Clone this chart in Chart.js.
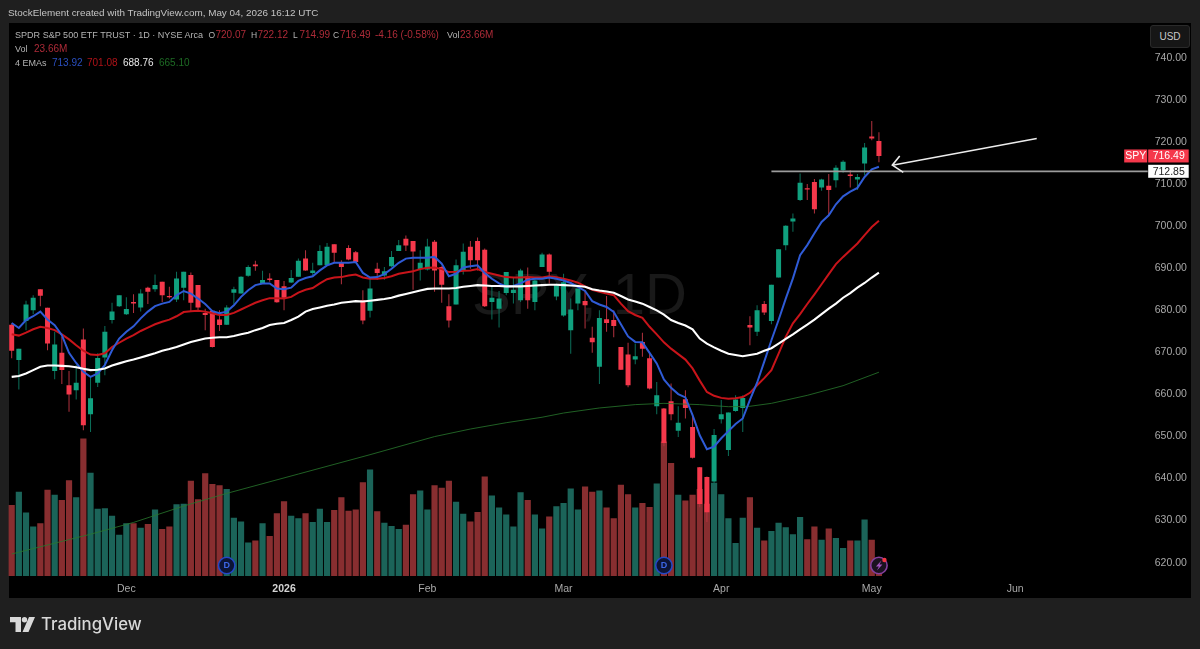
<!DOCTYPE html>
<html lang="en">
<head>
<meta charset="UTF-8">
<title>SPY daily</title>
<script src="https://cdn.jsdelivr.net/npm/chart.js"></script>
<style>
    html, body { margin: 0; padding: 0; background: #1f1f1f; }
    body { position: relative; width: 1200px; height: 649px; overflow: hidden; font-family: "Liberation Sans", sans-serif; }
    #panel { position: absolute; left: 9px; top: 23px; width: 1182px; height: 575px; background: #000; }
    canvas { position: absolute; left: 0; top: 0; }
    .t { position: absolute; white-space: nowrap; font-size: 10px; line-height: 12px; color: #b4b4b4; }
    #usd { position: absolute; left: 1150px; top: 25px; width: 38px; height: 21px; line-height: 21px; text-align: center;
           background: #161616; border: 1px solid #2a2a2a; border-radius: 3px; font-size: 10px; color: #c8c8c8; }
    #logoText { position: absolute; left: 41px; top: 612px; font-family: Inter, sans-serif; font-weight: 500; font-size: 16.8px; line-height: 25px; color: #d8d8d8; }
    #logo { position: absolute; left: 10px; top: 617px; }
</style>
</head>
<body>
<div id="panel"></div>
<canvas id="spychart" width="1200" height="649"></canvas>
<div id="usd">USD</div>
<svg id="logo" width="26" height="15" viewBox="0 0 26 15">
    <path d="M0 0H11V15H5.5V5.2H0Z M25 0L18.5 15H12.5L19 0Z" fill="#d8d8d8"/>
    <circle cx="14.5" cy="2.7" r="2.7" fill="#d8d8d8"/>
</svg>
<div id="logoText">TradingView</div>
<script>
    // Daily candles, oldest first
    const opens = [676.4,668.0,677.3,679.8,684.8,680.4,665.4,669.7,662.0,660.8,
        672.9,655.1,662.6,668.6,677.5,680.8,678.9,681.8,680.5,685.2,
        684.8,686.6,683.2,682.4,685.2,688.2,685.8,679.2,679.7,677.6,
        676.4,684.0,683.8,688.0,690.7,686.3,687.4,687.0,685.5,686.4,
        687.8,692.1,688.7,690.5,690.5,695.5,691.1,694.6,693.6,682.2,
        679.7,689.7,688.1,690.3,693.9,696.8,696.3,689.6,689.5,696.1,
        690.1,680.8,681.2,689.3,694.9,696.3,694.2,681.8,680.2,683.9,
        683.9,682.2,687.7,681.8,690.1,693.1,683.1,678.6,675.1,681.4,
        682.0,673.3,666.4,677.7,677.5,671.1,669.3,668.1,672.3,668.4,
        657.0,656.5,658.2,651.2,658.7,652.1,642.5,640.2,639.1,653.9,
        646.6,655.9,656.6,676.3,674.7,681.3,677.3,687.6,695.3,700.9,
        706.0,708.8,710.3,709.0,709.4,710.7,713.1,712.1,710.9,714.7,
        721.1,720.07];
    const highs = [676.7,670.7,682.1,683.4,684.8,680.4,674.7,673.5,665.4,666.8,
        675.5,664.2,669.6,676.1,681.6,683.4,682.9,683.6,684.8,685.4,
        688.3,686.6,685.4,689.0,689.0,688.8,685.8,680.2,679.8,679.8,
        681.0,685.4,687.9,690.5,691.6,689.2,688.6,687.0,686.8,689.4,
        692.1,694.1,691.1,695.3,695.8,695.5,691.7,695.3,693.9,684.6,
        687.3,691.1,690.1,693.9,696.5,697.6,696.3,694.1,696.8,696.5,
        690.3,683.6,691.9,695.7,696.3,697.1,694.5,685.8,684.4,688.9,
        687.7,689.7,690.0,687.6,693.5,693.3,686.2,688.5,682.6,685.0,
        684.6,675.9,679.8,683.2,679.8,671.1,672.1,671.9,674.5,669.5,
        662.8,656.6,662.4,657.0,660.8,654.9,642.6,640.3,651.6,658.5,
        655.5,659.6,659.6,678.4,681.0,682.0,685.9,694.3,700.0,702.8,
        712.3,709.8,711.0,711.1,712.2,714.3,715.5,713.1,712.2,719.6,
        724.8,722.12];
    const lows = [668.4,661.0,675.1,678.9,680.8,670.3,663.4,662.3,655.7,658.6,
        651.3,650.9,661.6,664.4,676.7,680.6,678.7,679.2,679.5,681.3,
        684.2,681.8,682.6,681.8,682.2,679.5,679.5,675.1,671.0,674.9,
        676.3,681.3,683.8,687.8,689.2,686.2,686.6,681.6,679.8,686.3,
        687.8,689.2,688.1,690.5,690.5,691.3,686.0,691.7,691.1,676.5,
        678.1,687.1,687.1,690.1,693.9,693.9,684.7,686.9,689.3,684.2,
        681.6,675.7,681.2,688.3,689.7,689.3,680.6,677.6,675.7,683.4,
        681.4,681.8,680.2,679.8,690.1,686.2,682.2,678.3,669.5,679.8,
        675.5,669.7,662.3,674.7,673.4,665.6,661.5,667.0,668.8,661.0,
        655.1,647.5,653.7,649.7,654.1,644.6,633.0,629.5,638.3,652.9,
        645.2,655.7,650.9,671.5,673.7,678.7,676.5,687.6,694.1,698.5,
        705.8,706.0,702.8,708.2,702.4,709.0,712.5,709.0,708.4,711.9,
        720.2,714.99];
    const closes = [670.2,670.7,681.2,682.8,683.3,671.9,671.7,665.6,659.8,662.6,
        652.5,658.9,668.5,674.7,679.5,683.4,680.1,681.4,683.8,684.2,
        685.8,683.4,682.9,687.4,689.0,681.6,680.5,678.7,671.1,676.3,
        680.5,684.8,687.8,690.1,690.3,687.0,687.0,681.7,682.8,687.5,
        691.6,689.3,689.3,693.9,694.9,693.5,690.1,691.9,691.3,677.4,
        685.0,688.7,689.1,692.5,695.3,695.2,693.8,691.1,695.0,689.3,
        685.9,677.4,690.5,693.7,691.7,691.7,680.8,682.8,682.6,688.9,
        684.7,689.3,682.2,686.9,693.1,689.0,685.8,686.5,680.0,685.0,
        681.0,672.2,678.0,676.8,676.1,665.7,662.0,668.9,670.7,661.2,
        659.6,648.3,655.1,653.1,656.6,644.8,633.8,631.8,650.2,655.1,
        655.5,658.6,659.0,675.7,679.8,679.3,685.9,694.3,699.9,701.6,
        710.1,708.5,703.8,710.9,708.4,713.7,715.1,711.7,711.5,718.5,
        720.65,716.49];

    // Volume in millions of shares
    const volumes = [112,133,100,78,83,136,128,120,151,124,
        217,163,106,107,95,65,83,83,76,82,
        105,74,78,113,114,150,121,162,145,143,
        137,92,86,53,56,83,63,99,118,95,
        91,99,85,106,85,104,124,103,105,148,
        168,102,84,79,74,81,129,135,105,143,
        139,150,117,98,86,101,157,127,108,97,
        78,132,120,97,75,94,110,115,138,105,
        141,133,135,108,91,144,129,108,115,109,
        146,212,178,128,119,128,137,114,147,129,
        91,52,92,124,76,56,71,84,77,66,
        93,58,78,57,75,60,44,56,56,89,
        57,23.66];

    const emaBlue = [676.8,675.6,677.5,678.4,679.5,677.6,676.3,673.9,669.7,667.3,
        665.2,664.0,664.8,666.8,670.3,673.1,674.7,676.0,677.9,679.5,
        680.8,681.4,681.8,683.4,684.4,683.8,682.6,681.3,679.6,679.1,
        679.5,681.0,683.0,684.6,685.8,686.2,686.2,685.0,684.8,685.2,
        686.8,687.5,687.9,689.3,690.5,691.1,691.1,691.1,691.3,688.7,
        687.6,687.7,688.4,689.7,691.1,692.1,692.3,692.3,692.3,692.5,
        690.9,687.9,688.5,690.0,690.3,690.5,688.7,687.3,686.2,685.5,
        685.6,686.2,687.1,687.3,687.3,687.6,687.3,686.9,686.3,685.4,
        684.4,682.0,681.2,680.6,679.4,676.5,673.6,672.3,672.2,669.7,
        667.2,663.4,661.4,659.9,659.1,654.9,650.1,646.8,647.4,649.4,
        651.1,652.8,654.1,658.5,662.6,667.6,672.7,677.5,682.6,687.4,
        692.9,695.3,698.1,700.8,702.4,705.0,706.9,708.0,708.9,711.5,
        713.3,713.92];
    const emaRed = [674.1,673.8,674.5,675.3,675.9,675.6,675.1,674.1,672.9,671.5,
        670.2,669.3,669.2,669.6,671.1,672.1,673.1,673.9,674.9,675.7,
        676.5,677.1,677.6,678.4,679.4,679.6,679.7,679.5,679.1,678.7,
        678.7,679.2,680.0,680.8,681.6,682.2,682.7,682.7,682.6,683.0,
        684.0,684.7,685.1,686.2,687.2,687.6,687.7,688.1,688.3,687.6,
        687.3,687.3,687.5,687.9,688.5,688.8,689.1,689.6,689.9,690.0,
        689.6,688.9,689.0,689.2,689.3,689.6,688.9,688.5,688.1,687.7,
        687.6,687.6,687.7,687.6,687.6,687.9,687.7,687.3,686.9,686.4,
        685.5,684.7,684.2,683.8,683.4,681.4,679.6,678.7,678.0,675.9,
        674.1,672.2,670.7,669.4,668.1,666.0,663.1,660.4,659.5,659.0,
        658.8,658.9,659.2,660.2,662.0,663.7,665.6,669.5,673.5,676.7,
        678.9,681.3,683.6,686.0,688.4,690.8,692.5,694.1,695.7,697.7,
        699.6,701.08];
    const emaWhite = [664.0,664.2,664.8,665.6,666.4,666.7,666.7,666.6,666.5,666.3,
        665.9,665.6,665.7,666.0,666.7,667.2,667.7,668.1,668.6,669.1,
        669.6,670.2,670.6,671.1,671.7,672.3,672.7,673.1,673.3,673.4,
        673.4,673.7,674.1,674.5,675.1,675.6,676.3,676.6,676.8,677.5,
        678.3,679.5,680.1,680.5,680.9,681.2,681.6,681.8,682.0,681.9,
        682.1,682.3,682.5,682.8,683.3,683.7,684.1,684.5,684.9,685.0,
        685.0,685.0,685.1,685.4,685.6,685.8,685.7,685.6,685.6,685.5,
        685.5,685.5,685.6,685.7,685.8,685.9,685.9,685.8,685.7,685.6,
        685.4,684.8,684.5,684.3,684.0,683.2,682.4,681.9,681.4,680.6,
        679.8,678.8,677.5,676.8,676.2,675.3,673.1,671.9,671.0,670.2,
        669.5,669.2,668.9,669.2,669.5,670.2,670.8,671.9,673.0,674.1,
        675.3,676.4,677.6,678.9,680.2,681.4,682.8,683.9,685.2,686.3,
        687.6,688.76];
    const emaGreenBars = [0,11,17,24,30,40,50,59,64,69,74,77,82,87,91,96,100,103,106,111,116,121];
    const emaGreenVals = [621.9,626.6,629.4,633.3,636.3,640.9,645.5,649.8,651.6,653.1,654.4,655.4,656.6,657.4,657.7,657.4,656.9,657.0,657.7,659.6,661.9,665.10];

    const monthBars = [16,38,58,77,99,120,140];
    const monthNames = ['Dec','2026','Feb','Mar','Apr','May','Jun'];
    const dividendBars = [30,91];
    const slotCount = 159;   // bars plus the empty space to the right
    const volumeAxisMax = 872;

    const levelPrice = 712.85;
    const levelFromBar = 106;
    const arrowBars = [143.02,122.87];
    const arrowPrices = [720.64,714.3];
    const arrowHeadBars = [123.9,122.87,124.4];
    const arrowHeadPrices = [716.5,714.3,712.6];

    const UP = '#10a07e', DOWN = '#f5384b';
    const UP_WICK = '#0c6f5a', DOWN_WICK = '#b3323f';
    const UP_VOL = '#1b6459', DOWN_VOL = '#882e30';
    const AXIS_FONT = '"Liberation Sans", sans-serif';

    const isUp = i => closes[i] >= opens[i];
    const slots = Array.from({ length: slotCount }, (_, i) => String(i));

    function addText(left, top, text, color, size) {
        const d = document.createElement('div');
        d.className = 't';
        d.style.left = left + 'px';
        d.style.top = top + 'px';
        d.textContent = text;
        if (color) d.style.color = color;
        if (size) d.style.fontSize = size + 'px';
        document.body.appendChild(d);
    }

    // Top strip and the legend rows
    const n = closes.length - 1;
    const change = closes[n] - closes[n - 1];
    const pct = change / closes[n - 1] * 100;
    const legendRed = '#ad2b38';
    addText(8, 7, 'StockElement created with TradingView.com, May 04, 2026 16:12 UTC', '#c4c4c4', 9.9);
    addText(15, 29, 'SPDR S&P 500 ETF TRUST · 1D · NYSE Arca', null, 9.05);
    addText(208.5, 29, 'O', null, 8.5);
    addText(215.5, 29, opens[n].toFixed(2), legendRed);
    addText(251, 29, 'H', null, 8.5);
    addText(257.5, 29, highs[n].toFixed(2), legendRed);
    addText(293, 29, 'L', null, 8.5);
    addText(299.5, 29, lows[n].toFixed(2), legendRed);
    addText(333, 29, 'C', null, 8.5);
    addText(340, 29, closes[n].toFixed(2), legendRed);
    addText(375, 29, change.toFixed(2) + ' (' + pct.toFixed(2) + '%)', legendRed);
    addText(447, 29, 'Vol', null, 9);
    addText(460, 29, volumes[n].toFixed(2) + 'M', legendRed);
    addText(15, 43, 'Vol', null, 9);
    addText(34, 43, volumes[n].toFixed(2) + 'M', legendRed);
    addText(15, 57, '4 EMAs', null, 9);
    addText(52, 57, emaBlue[n].toFixed(2), '#2a4fc0');
    addText(87, 57, emaRed[n].toFixed(2), '#b01218');
    addText(123, 57, emaWhite[n].toFixed(2), '#e8e8e8');
    addText(159, 57, emaGreenVals[emaGreenVals.length - 1].toFixed(2), '#1d6b24');

    // Faint symbol text behind the candles
    const watermark = {
        id: 'watermark',
        beforeDatasetsDraw(chart) {
            const ctx = chart.ctx;
            ctx.save();
            ctx.fillStyle = '#191919';
            ctx.font = '58px "Liberation Sans", sans-serif';
            ctx.textAlign = 'left';
            ctx.textBaseline = 'middle';
            ctx.fillText('SPY, 1D', 472, 298);
            ctx.restore();
        }
    };

    function drawBadge(ctx, x, cy, ring, fill) {
        ctx.beginPath();
        ctx.arc(x, cy, 8.2, 0, Math.PI * 2);
        ctx.fillStyle = fill;
        ctx.fill();
        ctx.lineWidth = 1.6;
        ctx.strokeStyle = ring;
        ctx.stroke();
    }

    // Price level, hand-drawn arrow, price tags and event badges
    const overlays = {
        id: 'overlays',
        afterDatasetsDraw(chart) {
            const ctx = chart.ctx;
            const xs = chart.scales.x, ys = chart.scales.y;
            const area = chart.chartArea;
            const levelY = ys.getPixelForValue(levelPrice);

            ctx.save();
            ctx.lineWidth = 1.8;
            ctx.strokeStyle = '#9c9c9c';
            ctx.beginPath();
            ctx.moveTo(xs.getPixelForValue(levelFromBar), levelY);
            ctx.lineTo(area.right, levelY);
            ctx.stroke();

            ctx.lineWidth = 1.6;
            ctx.strokeStyle = '#ececec';
            ctx.beginPath();
            arrowBars.forEach((b, i) => ctx.lineTo(xs.getPixelForValue(b), ys.getPixelForValue(arrowPrices[i])));
            ctx.stroke();
            ctx.beginPath();
            arrowHeadBars.forEach((b, i) => ctx.lineTo(xs.getPixelForValue(b), ys.getPixelForValue(arrowHeadPrices[i])));
            ctx.stroke();

            // Tags on the price axis
            const lastY = ys.getPixelForValue(closes[n]);
            ctx.fillStyle = DOWN;
            ctx.fillRect(area.right - 23.5, lastY - 6.5, 23, 13);
            ctx.fillRect(area.right + 0.5, lastY - 6.5, 40.5, 13);
            ctx.fillStyle = '#fff';
            ctx.fillRect(area.right + 0.5, levelY - 6.5, 40.5, 13);
            ctx.font = '10.5px ' + AXIS_FONT;
            ctx.textBaseline = 'middle';
            ctx.textAlign = 'center';
            ctx.fillStyle = '#fff';
            ctx.fillText('SPY', area.right - 12, lastY + 0.5);
            ctx.fillText(closes[n].toFixed(2), area.right + 21, lastY + 0.5);
            ctx.fillStyle = '#222';
            ctx.fillText(levelPrice.toFixed(2), area.right + 21, levelY + 0.5);

            // Dividend markers along the bottom of the pane
            const badgeY = area.bottom - 10.5;
            dividendBars.forEach(b => {
                const x = xs.getPixelForValue(b);
                drawBadge(ctx, x, badgeY, '#2448c8', '#0c1436');
                ctx.fillStyle = '#3c66e6';
                ctx.font = 'bold 9px ' + AXIS_FONT;
                ctx.fillText('D', x, badgeY + 0.5);
            });

            // Latest-session marker with its bolt and alert dot
            const lx = xs.getPixelForValue(n);
            drawBadge(ctx, lx, badgeY, '#86409f', '#1b1220');
            ctx.fillStyle = '#a254c0';
            ctx.beginPath();
            ctx.moveTo(lx + 2.5, badgeY - 5);
            ctx.lineTo(lx - 3, badgeY + 1);
            ctx.lineTo(lx, badgeY + 1);
            ctx.lineTo(lx - 2, badgeY + 5);
            ctx.lineTo(lx + 3.5, badgeY - 1);
            ctx.lineTo(lx + 0.5, badgeY - 1);
            ctx.closePath();
            ctx.fill();
            ctx.fillStyle = '#f23645';
            ctx.beginPath();
            ctx.arc(lx + 5.5, badgeY - 5.5, 2.2, 0, Math.PI * 2);
            ctx.fill();
            ctx.restore();
        }
    };

    function lineSet(data, color, width, order) {
        return { type: 'line', data, borderColor: color, borderWidth: width, pointRadius: 0,
                 tension: 0, order, yAxisID: 'y', spanGaps: true };
    }

    const emaGreen = slots.map(() => null);
    emaGreenBars.forEach((b, i) => { emaGreen[b] = emaGreenVals[i]; });

    const ctx = document.getElementById('spychart').getContext('2d');
    new Chart(ctx, {
        type: 'bar',
        data: {
            labels: slots,
            datasets: [
                lineSet(emaBlue, '#2f5bd6', 2, 1),
                lineSet(emaRed, '#c8141a', 2, 2),
                lineSet(emaWhite, '#ffffff', 2.1, 0),
                lineSet(emaGreen, 'rgba(40,120,45,0.8)', 1, 3),
                {
                    data: closes.map((c, i) => [opens[i], c]),
                    backgroundColor: closes.map((_, i) => isUp(i) ? UP : DOWN),
                    barThickness: 5, grouped: false, inflateAmount: 0, order: 4, yAxisID: 'y'
                },
                {
                    data: closes.map((_, i) => [lows[i], highs[i]]),
                    backgroundColor: closes.map((_, i) => isUp(i) ? UP_WICK : DOWN_WICK),
                    barThickness: 1, grouped: false, inflateAmount: 0, order: 5, yAxisID: 'y'
                },
                {
                    data: volumes,
                    backgroundColor: closes.map((_, i) => isUp(i) ? UP_VOL : DOWN_VOL),
                    barThickness: 6.2, grouped: false, inflateAmount: 0, order: 6, yAxisID: 'vol'
                }
            ]
        },
        plugins: [watermark, overlays],
        options: {
            responsive: false,
            animation: false,
            events: [],
            layout: { padding: { left: 8.1, right: 9, top: 23, bottom: 51 } },
            plugins: { legend: { display: false }, tooltip: { enabled: false } },
            scales: {
                x: {
                    offset: true,
                    grid: { display: false, drawTicks: false },
                    border: { display: false },
                    afterFit: s => { s.height = 22; },
                    afterBuildTicks: s => { s.ticks = monthBars.map(value => ({ value })); },
                    ticks: {
                        autoSkip: false,
                        maxRotation: 0,
                        padding: 7,
                        color: c => monthNames[c.index] === '2026' ? '#d4d4d4' : '#a8a8a8',
                        font: c => ({ family: AXIS_FONT, size: 10.5, weight: monthNames[c.index] === '2026' ? 'bold' : 'normal' }),
                        callback: (value, i) => monthNames[i]
                    }
                },
                y: {
                    position: 'right',
                    min: 616.67,
                    max: 748.09,
                    grid: { display: false, drawTicks: false },
                    border: { display: false },
                    afterFit: s => { s.width = 43.3; },
                    ticks: {
                        stepSize: 10,
                        includeBounds: false,
                        padding: 7,
                        labelOffset: 0.7,
                        color: '#a8a8a8',
                        font: { family: AXIS_FONT, size: 10.5 },
                        callback: v => v.toFixed(2)
                    }
                },
                vol: { display: false, min: 0, max: volumeAxisMax }
            }
        }
    });
</script>
</body>
</html>
